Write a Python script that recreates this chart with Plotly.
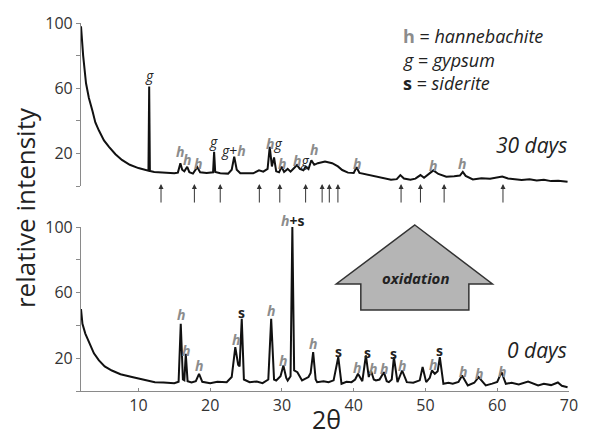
import plotly.graph_objects as go

# ---------------- data ----------------
# 30 days pattern (top panel)
top_theta = [2.0, 2.3, 2.7, 3.1, 3.6, 4.0, 4.5, 5.2, 5.9, 6.8, 7.7, 8.8, 10.0, 11.0, 11.4, 11.5, 11.6,
             12.2, 13.0, 14.0, 15.0, 15.5, 15.85, 16.1, 16.4, 16.8, 17.1, 17.6, 18.2, 18.6, 19.5,
             20.4, 20.55, 20.7, 21.4, 22.5, 23.0, 23.35, 23.7, 24.2, 25.0, 26.0, 26.8, 27.4, 28.0,
             28.3, 28.6, 28.9, 29.2, 29.6, 29.95, 30.3, 30.8, 31.2, 31.7, 32.1, 32.5, 33.0, 33.3,
             33.7, 34.1, 34.5, 35.0, 36.0, 37.0, 37.8, 38.4, 39.2, 40.0, 40.4, 40.8, 41.8, 42.9,
             44.0, 45.2, 46.0, 46.5, 47.0, 47.9, 48.6, 49.3, 49.8, 50.5, 51.1, 51.8, 52.9, 54.0,
             54.8, 55.2, 55.6, 56.6, 57.8, 59.0, 60.0, 60.7, 61.5, 62.5, 63.4, 64.5, 65.5, 66.5,
             67.5, 68.5, 69.8]
top_int = [98, 80, 63, 54, 46, 39, 34, 28, 24, 19.5, 16, 13, 11, 9.8, 9.4, 61, 9.2,
           8.6, 8.4, 8.2, 7.8, 8.2, 14, 10, 9, 11.8, 8.5, 7.6, 11.6, 8.4, 8,
           8.4, 21, 8.6, 7.8, 7.6, 10, 18, 10, 7.8, 7.6, 7.8, 9.6, 8.8, 10.5,
           24, 12, 17.5, 9, 8.4, 11.8, 8.6, 10.5, 8.8, 11, 12.8, 10.5, 9.6, 11.8,
           10.4, 15.8, 13, 14, 15, 14, 12, 9.8, 8.2, 8, 11.5, 8, 7, 5.7,
           5, 3.8, 4.2, 6.7, 4.6, 3.8, 4.5, 6.7, 5, 7.5, 9.6, 7.4, 5.7, 6,
           6.4, 8.7, 6.2, 4, 4.8, 4.4, 5, 5.8, 4.6, 4.2, 3.7, 4.2, 3.4, 3.8,
           3.0, 3.2, 2.6]

# 0 days pattern (bottom panel)
bot_theta = [2.0, 2.2, 2.6, 3.15, 3.8, 4.5, 5.3, 6.3, 7.5, 9.1, 10.5, 12.3, 13.5, 15.0, 15.6, 15.9,
             16.2, 16.4, 16.6, 16.85, 17.4, 18.0, 18.45, 18.9, 20.0, 21.0, 22.3, 23.0, 23.5, 23.9,
             24.1, 24.4, 24.7, 25.5, 26.5, 27.3, 28.1, 28.5, 28.9, 29.2, 29.8, 30.2, 30.6, 30.8,
             31.2, 31.45, 31.7, 32.15, 32.8, 33.3, 33.7, 34.0, 34.35, 34.7, 34.9, 35.8, 36.5, 37.2,
             37.85, 38.3, 39.0, 39.7, 40.2, 40.6, 41.2, 41.7, 42.1, 42.4, 42.8, 43.1, 43.6, 44.2,
             44.6, 44.9, 45.3, 45.6, 46.1, 46.75, 47.4, 48.3, 49.2, 49.6, 50.1, 50.6, 50.9, 51.3,
             51.7, 52.0, 52.5, 53.2, 53.8, 54.6, 55.1, 55.9, 56.8, 57.4, 58.4, 59.3, 60.0, 60.6,
             61.2, 62.0, 63.0, 64.3, 65.7, 66.5, 67.5, 68.45, 69.0, 69.8]
bot_int = [50, 41, 35, 29, 23, 18.7, 15, 12.5, 10.2, 8.5, 7, 5.4, 5.2, 4.8, 5.6, 41,
           7, 6.5, 22.7, 6, 5.2, 6, 10.5, 5.6, 4.8, 5.6, 5.4, 8.5, 26.8, 16,
           15, 44, 7, 5.4, 5.8, 4.8, 7, 44, 7, 6.4, 9, 15.6, 8, 6.4,
           9, 100, 12.5, 11.5, 6.4, 7.5, 8.5, 11, 23.7, 7, 5.4, 6, 5.4, 6.5,
           20.7, 4.4, 5.6, 5.4, 7, 10.5, 6, 21.7, 8.5, 12.5, 7, 6.4, 7, 11.5,
           6, 5.4, 7, 20.7, 5.4, 12.5, 5.4, 5, 6.5, 14.6, 5.4, 8, 12.5, 10.5,
           12, 20.7, 4.4, 5, 4.4, 5.5, 9.5, 3.4, 5, 8.5, 3.4, 4.5, 5.5, 11.5,
           4.4, 5, 4, 5.8, 3.4, 4.4, 3.6, 5.2, 3.2, 2.3]

# peak labels
H = "<b><i><span style='color:#8c8c8c'>h</span></i></b>"
G = "<i>g</i>"
S = "<b>s</b>"
top_lbl_text = [G, H, H, H, G, G + "+" + H, H + G, H, H + G, H, H, H, H]
top_lbl_theta = [11.6, 15.85, 16.8, 18.35, 20.5, 23.3, 28.85, 29.95, 32.6, 34.4, 40.4, 51.1, 55.1]
top_lbl_int = [68, 21, 16, 14, 27, 22, 26, 14, 15.5, 22.5, 13.5, 12.8, 13.5]

bot_lbl_text = [H, H, H, H, S, H, H, H + "<b>+s</b>", H, S, H, S, H, H, S, H, H, S, H, H, H]
bot_lbl_theta = [16.0, 16.7, 18.45, 23.6, 24.4, 28.5, 30.2, 31.45, 34.35, 37.85, 40.5, 41.9,
                 42.65, 44.25, 45.6, 46.75, 51.0, 52.0, 55.2, 57.5, 60.6]
bot_lbl_int = [46.6, 24.8, 15.6, 31.3, 47.6, 49.2, 18.7, 104, 28.9, 24.2, 14.6, 23.7,
               13.6, 13.6, 22.7, 15.6, 16.2, 24.8, 11.9, 10.9, 11.9]

# arrows under the 30-day pattern
arrow_theta = [13.15, 17.8, 21.4, 26.85, 29.7, 33.3, 35.6, 36.6, 37.8, 46.6, 49.3, 52.6, 60.8]

x_ticks = [10, 20, 30, 40, 50, 60, 70]
y_ticks = [0, 20, 40, 60, 80, 100]
y_ticktext = ["", "20", "", "60", "", "100"]

# ---------------- layout helpers ----------------
W, Hh = 589, 437
L, R, T, B = 81, 11, 23, 46
PW, PH = W - L - R, Hh - T - B
BOT_TOP_PX, TOP_BOT_PX = 227, 186
bot_dom = [0, (Hh - B - BOT_TOP_PX) / PH]
top_dom = [(Hh - B - TOP_BOT_PX) / PH, 1]


def px(xp):
    return (xp - L) / PW


def py(yp):
    return (Hh - B - yp) / PH


def val_to_paper(v, dom):
    return dom[0] + (dom[1] - dom[0]) * v / 100.0


def theta_to_paper(t):
    return (t - 2) / 68.0


FONT = "Open Sans"
AX = "#8a8a8a"

fig = go.Figure()
fig.add_trace(go.Scatter(x=top_theta, y=top_int, mode="lines", yaxis="y2",
                         line=dict(color="#111", width=2), hoverinfo="skip"))
fig.add_trace(go.Scatter(x=bot_theta, y=bot_int, mode="lines", yaxis="y",
                         line=dict(color="#111", width=2), hoverinfo="skip"))

ann = []
for t, th, v in zip(top_lbl_text, top_lbl_theta, top_lbl_int):
    ann.append(dict(x=theta_to_paper(th), y=val_to_paper(v, top_dom), xref="paper", yref="paper",
                    xanchor="center", yanchor="middle",
                    text=t, showarrow=False, font=dict(family=FONT, size=14, color="#222")))
for t, th, v in zip(bot_lbl_text, bot_lbl_theta, bot_lbl_int):
    ann.append(dict(x=theta_to_paper(th), y=val_to_paper(v, bot_dom), xref="paper", yref="paper",
                    xanchor="center", yanchor="middle",
                    text=t, showarrow=False, font=dict(family=FONT, size=14, color="#222")))
for th in arrow_theta:
    ann.append(dict(x=th, y=1.2, xref="x", yref="y2", text="", showarrow=True,
                    ax=0, ay=20, arrowhead=2, arrowsize=1, arrowwidth=1, arrowcolor="#333"))

# legend text
leg = ["<b><span style='color:#8c8c8c'>h</span></b> = <i>hannebachite</i>",
       "<i>g</i> = <i>gypsum</i>",
       "<b>s</b> = <i>siderite</i>"]
for i, t in enumerate(leg):
    ann.append(dict(x=px(407), y=py(36 + 23.5 * i), xref="paper", yref="paper", text=t,
                    showarrow=False, xanchor="left", yanchor="middle",
                    font=dict(family=FONT, size=18, color="#222")))

ann.append(dict(x=px(578), y=py(145), xref="paper", yref="paper", text="<i>30 days</i>",
                showarrow=False, xanchor="right", yanchor="middle",
                font=dict(family=FONT, size=21, color="#222")))
ann.append(dict(x=px(578), y=py(350), xref="paper", yref="paper", text="<i>0 days</i>",
                showarrow=False, xanchor="right", yanchor="middle",
                font=dict(family=FONT, size=21, color="#222")))
ann.append(dict(x=px(422), y=py(278), xref="paper", yref="paper", text="<b><i>oxidation</i></b>",
                showarrow=False, xanchor="center", yanchor="middle",
                font=dict(family=FONT, size=15, color="#222")))
ann.append(dict(x=px(24), y=py(208), xref="paper", yref="paper", text="relative intensity",
                showarrow=False, textangle=-90, xanchor="center", yanchor="middle",
                font=dict(family=FONT, size=26, color="#222")))
ann.append(dict(x=px(331), y=py(419), xref="paper", yref="paper", text="2θ",
                showarrow=False, xanchor="center", yanchor="middle",
                font=dict(family=FONT, size=25, color="#222")))

# oxidation arrow
pts = [(421, 225), (500, 284), (476, 284), (476, 310), (366, 310), (366, 284), (341, 284)]
path = "M " + " L ".join(f"{px(a):.4f},{py(b):.4f}" for a, b in pts) + " Z"
shapes = [dict(type="path", path=path, xref="paper", yref="paper",
               fillcolor="#b5b5b5", line=dict(color="#333", width=1.5), layer="below")]

yax = dict(range=[0, 100], tickvals=y_ticks, ticktext=y_ticktext, showline=True,
           linecolor=AX, linewidth=1.2, ticks="outside", ticklen=4, tickcolor=AX,
           showgrid=False, zeroline=False, anchor="x",
           tickfont=dict(family=FONT, size=16, color="#333"))

fig.update_layout(
    width=W, height=Hh, margin=dict(l=L, r=R, t=T, b=B),
    paper_bgcolor="white", plot_bgcolor="white", showlegend=False,
    xaxis=dict(range=[2, 70], tickvals=x_ticks, showline=True, linecolor=AX, linewidth=1.2,
               ticks="inside", ticklen=3, tickcolor=AX, showgrid=False, zeroline=False,
               tickfont=dict(family=FONT, size=16, color="#333")),
    yaxis=dict(domain=bot_dom, **yax),
    yaxis2=dict(domain=top_dom, **yax),
    annotations=ann, shapes=shapes,
)

fig.write_html("out.html", config={"displayModeBar": False},
               post_script="document.body.style.margin='0';document.body.style.overflow='hidden';")
